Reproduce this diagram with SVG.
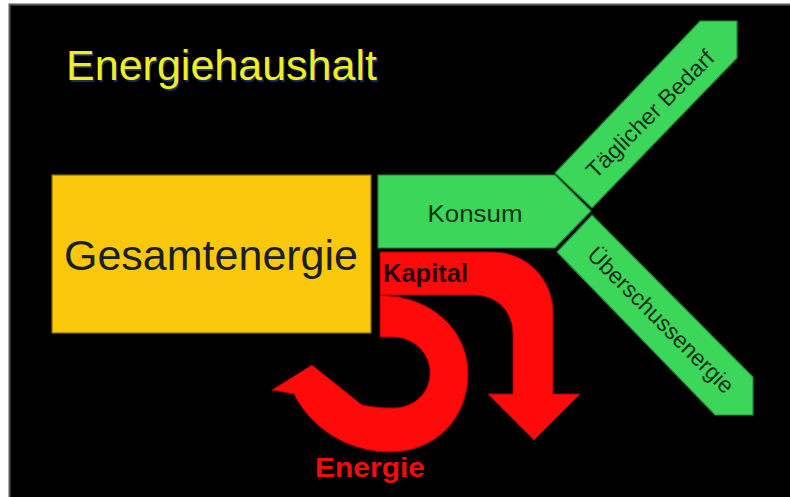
<svg xmlns="http://www.w3.org/2000/svg" width="790" height="497" viewBox="0 0 790 497">
  <defs>
    <style>
      .sans { font-family: "Liberation Sans", Arial, sans-serif; }
      .green { fill: #3bd65a; stroke: #1e8a38; stroke-width: 1.2; stroke-linejoin: miter; }
      .red { fill: #fe0a0a; stroke: #a80000; stroke-width: 1; stroke-linejoin: round; }
      .glabel { fill: #15301a; font-size: 23px; }
    </style>
  </defs>

  <!-- page frame -->
  <rect x="0" y="0" width="790" height="497" fill="#ffffff"/>
  <rect x="9" y="4" width="781" height="493" fill="#000000"/>
  <path d="M9.5 497 V4.5 H790" fill="none" stroke="#5a5a5a" stroke-width="2"/>

  <!-- title -->
  <g id="title" class="sans" font-size="42">
    <text x="67.5" y="81.5" fill="#1b2a6a" textLength="311" lengthAdjust="spacingAndGlyphs">Energiehaushalt</text>
    <text x="66" y="80" fill="#eeee22" textLength="311" lengthAdjust="spacingAndGlyphs">Energiehaushalt</text>
  </g>

  <!-- total energy block -->
  <g id="gesamtenergie">
    <rect x="52" y="175" width="319" height="158" fill="#fbc80b" stroke="#8a6a00" stroke-width="1.2"/>
    <text class="sans" x="64" y="270" font-size="42" fill="#17202e" textLength="294" lengthAdjust="spacingAndGlyphs">Gesamtenergie</text>
  </g>

  <!-- consumption branch -->
  <g id="konsum">
    <path class="green" d="M378 175 H555 L591 211 L555 248 H378 Z"/>
    <text class="sans glabel" x="475" y="222" text-anchor="middle" font-size="24" textLength="95" lengthAdjust="spacingAndGlyphs">Konsum</text>
  </g>

  <g id="taeglicher-bedarf">
    <path class="green" d="M555 173 L700 21 H737 V58 L592 208 Z"/>
    <text class="sans glabel" transform="translate(650 114) rotate(-45)" x="0" y="8" text-anchor="middle" textLength="170" lengthAdjust="spacingAndGlyphs">Täglicher Bedarf</text>
  </g>

  <g id="ueberschussenergie">
    <path class="green" d="M592 215 L753 377 V415 H715 L557 252 Z"/>
    <text class="sans glabel" transform="translate(661 320) rotate(45)" x="0" y="8" text-anchor="middle" textLength="196" lengthAdjust="spacingAndGlyphs">Überschussenergie</text>
  </g>

  <!-- capital flow and energy loop -->
  <g id="connectors">
    <g id="kapital">
      <path class="red" d="M380 252 H493 C526 252 553 279 553 312 V394 H580 L534 440 L488 394 H513 V335 C513 311 497 295 473 295 H380 Z"/>
      <text class="sans" x="383" y="282" font-size="25" font-weight="bold" fill="#2a0606" textLength="85" lengthAdjust="spacingAndGlyphs">Kapital</text>
    </g>
    <g id="energie-loop">
      <path class="red" d="M380 295.5 C432 295.5 468 331 468 373 C468 420 434 452 390 452 C350 452 312 430 294 394 L272 390 L312 365 L362 405 C372 407 382 408 393 408 C414 408 430 393 430 373 C430 352 413 337 392 337 H380 Z"/>
      <text class="sans" x="315" y="477" font-size="28" font-weight="bold" fill="#f20d0d" textLength="110" lengthAdjust="spacingAndGlyphs">Energie</text>
    </g>
  </g>
</svg>
